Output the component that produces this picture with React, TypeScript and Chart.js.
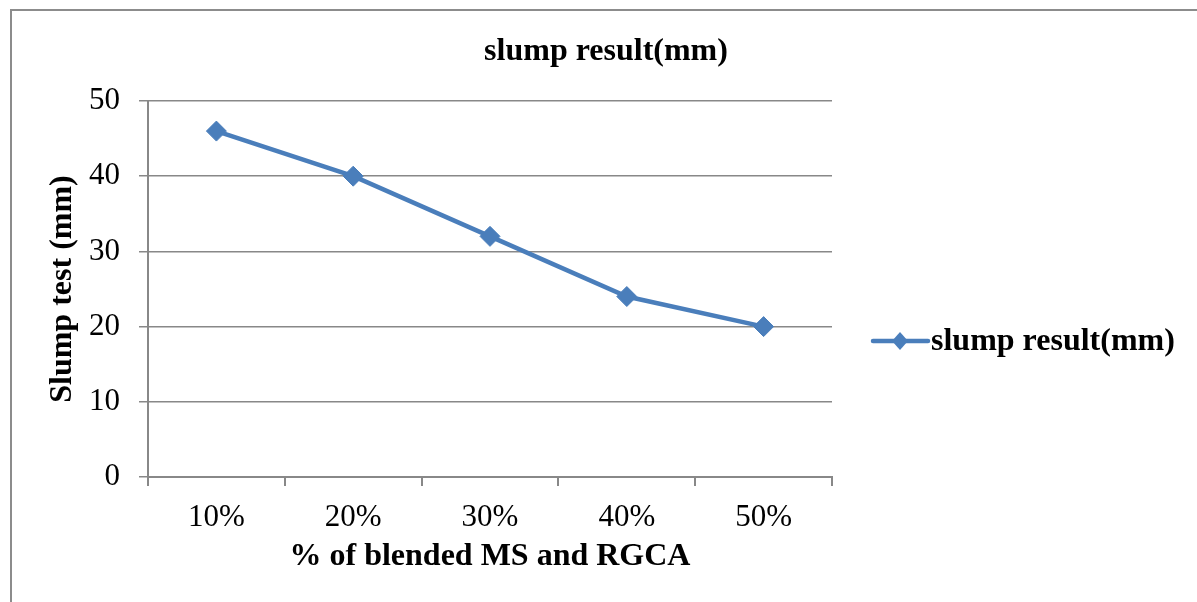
import React, { useEffect, useRef } from "react";
import { Chart, registerables } from "chart.js";

Chart.register(...registerables);

const categories = ["10%", "20%", "30%", "40%", "50%"];
const slumpValues = [46, 40, 32, 24, 20];
const seriesName = "slump result(mm)";
const chartTitle = "slump result(mm)";
const xTitle = "% of blended MS and RGCA";
const yTitle = "Slump test (mm)";

const FONT = "'Liberation Serif', 'Times New Roman', serif";
const LINE = "#4a7ebb";
const GRID = "#888888";

const overlay = {
  id: "overlay",
  afterDraw(chart: any) {
    const ctx = chart.ctx as CanvasRenderingContext2D;
    ctx.save();
    // outer frame
    ctx.fillStyle = "#8c8c8c";
    ctx.fillRect(10, 9, 1197, 2);
    ctx.fillRect(10, 9, 2, 602);
    // title
    ctx.fillStyle = "#000";
    ctx.font = `bold 32px ${FONT}`;
    ctx.textAlign = "center";
    ctx.textBaseline = "middle";
    ctx.fillText(chartTitle, 606, 52);
    // legend
    const y = 341;
    ctx.strokeStyle = LINE;
    ctx.lineWidth = 4.5;
    ctx.lineCap = "round";
    ctx.beginPath();
    ctx.moveTo(873, y);
    ctx.lineTo(928, y);
    ctx.stroke();
    ctx.fillStyle = LINE;
    ctx.beginPath();
    ctx.moveTo(900, y - 9);
    ctx.lineTo(908, y);
    ctx.lineTo(900, y + 9);
    ctx.lineTo(892, y);
    ctx.closePath();
    ctx.fill();
    ctx.fillStyle = "#000";
    ctx.textAlign = "left";
    ctx.font = `bold 32px ${FONT}`;
    ctx.fillText(chart.data.datasets[0].label, 931, y + 1);
    ctx.restore();
  },
};

export default function App() {
  const ref = useRef<HTMLCanvasElement>(null);
  useEffect(() => {
    if (!ref.current) return;
    const chart = new Chart(ref.current, {
      type: "line",
      data: {
        labels: categories,
        datasets: [
          {
            label: seriesName,
            data: slumpValues,
            borderColor: LINE,
            backgroundColor: LINE,
            borderWidth: 4.5,
            pointStyle: "rectRot",
            pointRadius: 10,
            pointHoverRadius: 10,
            pointBackgroundColor: LINE,
            pointBorderColor: LINE,
            pointBorderWidth: 1,
            tension: 0,
          },
        ],
      },
      options: {
        responsive: false,
        animation: false,
        devicePixelRatio: 1,
        layout: { padding: { top: 101, right: 365, left: 0, bottom: 0 } },
        plugins: { legend: { display: false }, title: { display: false }, tooltip: { enabled: false } },
        scales: {
          x: {
            offset: true,
            afterFit: (s: any) => {
              s.height = 125;
            },
            grid: {
              offset: true,
              drawOnChartArea: false,
              drawTicks: true,
              tickLength: 9,
              color: GRID,
              lineWidth: 2,
            },
            border: { color: GRID, width: 2 },
            ticks: { color: "#000", font: { family: FONT, size: 31 }, padding: 13, maxRotation: 0 },
            title: {
              display: true,
              text: xTitle,
              color: "#000",
              font: { family: FONT, size: 32, weight: "bold" },
              padding: { top: 0, bottom: 26 },
            },
          },
          y: {
            min: 0,
            max: 50,
            afterFit: (s: any) => {
              s.width = 148;
            },
            ticks: { stepSize: 10, color: "#000", font: { family: FONT, size: 31 }, padding: 19 },
            grid: { color: GRID, lineWidth: 1.5, drawTicks: true, tickLength: 9 },
            border: { color: GRID, width: 2 },
            title: {
              display: true,
              text: yTitle,
              color: "#000",
              font: { family: FONT, size: 32, weight: "bold" },
              padding: { top: 44, bottom: 0 },
            },
          },
        },
      },
      plugins: [overlay],
    });
    return () => chart.destroy();
  }, []);
  return (
    <div style={{ position: "absolute", left: 0, top: 0, width: 1197, height: 602, background: "#fff" }}>
      <canvas ref={ref} width={1197} height={602} />
    </div>
  );
}
